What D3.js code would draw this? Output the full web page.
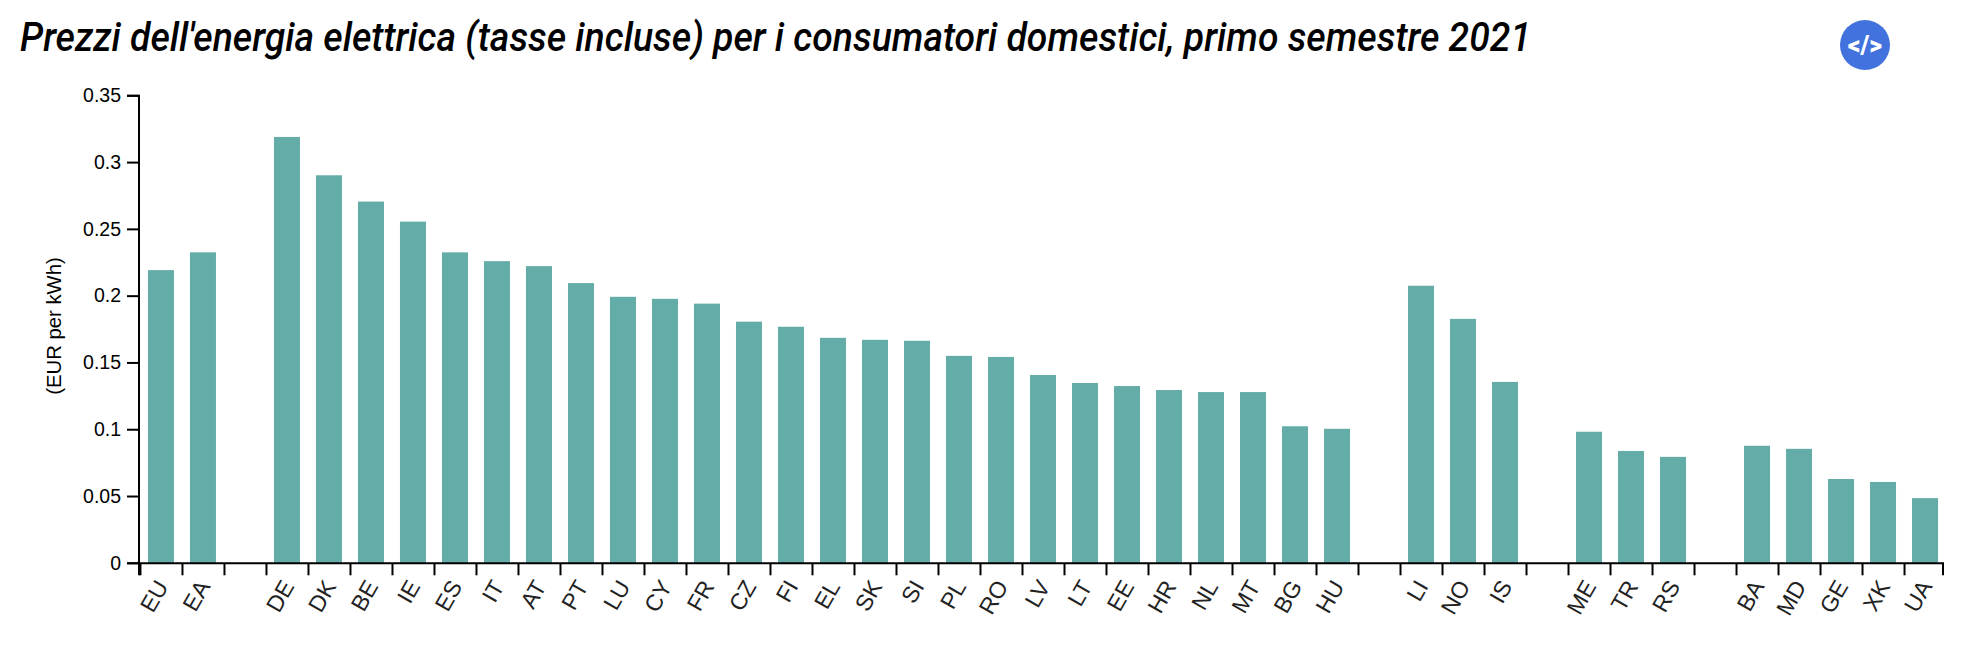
<!DOCTYPE html>
<html>
<head>
<meta charset="utf-8">
<script src="https://cdn.jsdelivr.net/npm/d3@7"></script>
<style>
    body { margin: 0; background: #fff; }
    svg { display: block; }
    text { fill: #000; }
    .axis text { font-family: "Liberation Sans", Arial, sans-serif; font-size: 19.5px; }
    .axis .xlabel { font-size: 23px; fill: #222; }
    .axis line, .axis path { stroke: #000; stroke-width: 2px; }
</style>
</head>
<body>
<div id="chart"></div>
<script>
// empty strings are the gaps between country groups
var categories = ["EU", "EA", "",
    "DE", "DK", "BE", "IE", "ES", "IT", "AT", "PT", "LU", "CY", "FR", "CZ", "FI", "EL", "SK", "SI", "PL", "RO", "LV", "LT", "EE", "HR", "NL", "MT", "BG", "HU", "",
    "LI", "NO", "IS", "",
    "ME", "TR", "RS", "",
    "BA", "MD", "GE", "XK", "UA"];
var prices = [0.2195, 0.2328, null,
    0.3192, 0.2905, 0.2708, 0.2558, 0.2328, 0.2262, 0.2225, 0.2098, 0.1995, 0.198, 0.1944, 0.1809, 0.1771, 0.1688, 0.1673, 0.1666, 0.1553, 0.1545, 0.141, 0.135, 0.1327, 0.1297, 0.1282, 0.1282, 0.1026, 0.1007, null,
    0.2078, 0.1830, 0.1358, null,
    0.0985, 0.0841, 0.0797, null,
    0.0880, 0.0857, 0.0631, 0.0609, 0.0488];
var yTicks = [0, 0.05, 0.1, 0.15, 0.2, 0.25, 0.3, 0.35];

var titleText = "Prezzi dell'energia elettrica (tasse incluse) per i consumatori domestici, primo semestre 2021";
var yLabel = "(EUR per kWh)";

var width = 1964, height = 664;
var plotLeft = 139, plotRight = 1943, plotTop = 95.8, plotBottom = 563.3;

var svg = d3.select("#chart").append("svg")
    .attr("width", width)
    .attr("height", height);

svg.append("text")
    .attr("x", 20)
    .attr("y", 51)
    .attr("textLength", 1511)
    .attr("lengthAdjust", "spacingAndGlyphs")
    .style("font-family", "Roboto, sans-serif")
    .style("font-style", "italic")
    .style("font-weight", 500)
    .style("font-size", "41px")
    .text(titleText);

// index based band scale, the gap names repeat
var x = d3.scaleBand()
    .domain(d3.range(categories.length))
    .range([plotLeft, plotRight])
    .paddingInner(0.381)
    .paddingOuter(0.166)
    .align(0.643);

var y = d3.scaleLinear().domain([0, 0.35]).range([plotBottom, plotTop]);

svg.selectAll("rect.bar")
    .data(prices.map(function (d, i) { return { i: i, value: d }; }).filter(function (d) { return d.value !== null; }))
    .enter()
    .append("rect")
    .attr("class", "bar")
    .attr("x", function (d) { return x(d.i); })
    .attr("y", function (d) { return y(d.value); })
    .attr("width", x.bandwidth())
    .attr("height", function (d) { return plotBottom - y(d.value); })
    .attr("fill", "#64ACA8");

var xAxis = svg.append("g")
    .attr("class", "axis")
    .attr("transform", "translate(0," + plotBottom + ")")
    .call(d3.axisBottom(x)
        .offset(0)
        .tickSize(12)
        .tickFormat(function (i) { return categories[i]; }));

// ticks sit just left of each bar, not in the band centers
xAxis.selectAll(".tick line")
    .attr("transform", "translate(-20.5,0)");

xAxis.selectAll(".tick text")
    .attr("class", "xlabel")
    .attr("text-anchor", "end")
    .attr("x", 0)
    .attr("y", 0)
    .attr("dy", 0)
    .attr("transform", "translate(8,23) rotate(-60)");

var yAxis = svg.append("g")
    .attr("class", "axis")
    .attr("transform", "translate(" + plotLeft + ",0)")
    .call(d3.axisLeft(y)
        .offset(0)
        .tickValues(yTicks)
        .tickSize(12)
        .tickPadding(6)
        .tickFormat(function (d) { return String(d); }));

svg.append("text")
    .attr("transform", "translate(61,326) rotate(-90)")
    .attr("text-anchor", "middle")
    .style("font-family", "Liberation Sans, Arial, sans-serif")
    .style("font-size", "20.3px")
    .text(yLabel);

// embed button in the top right corner
var button = svg.append("g").attr("transform", "translate(1865,45)");
button.append("circle")
    .attr("r", 25)
    .attr("fill", "#4272DE");
button.append("text")
    .attr("y", 9)
    .attr("text-anchor", "middle")
    .style("font-family", "Roboto, sans-serif")
    .style("font-weight", 900)
    .style("font-size", "25px")
    .style("fill", "#fff")
    .text("</>");
</script>
</body>
</html>
